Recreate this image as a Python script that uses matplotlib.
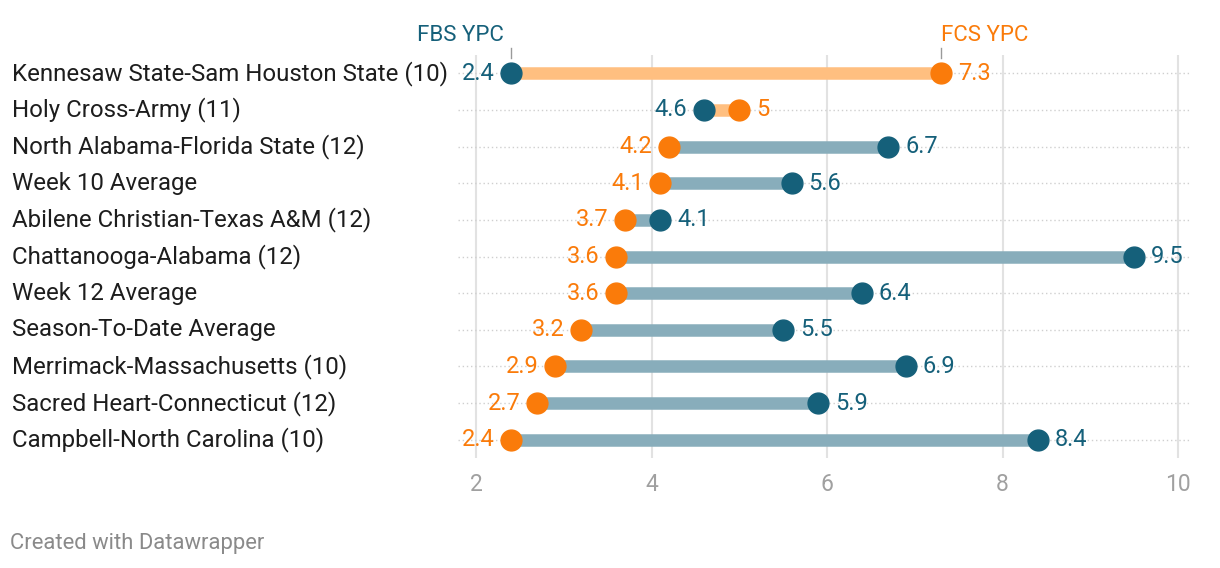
"""
Dumbbell chart: FCS vs FBS yards per carry
"""

import matplotlib.pyplot as plt
import matplotlib.transforms as mtransforms

plt.rcParams["font.family"] = ["Roboto", "DejaVu Sans"]

# --- data ---
games = [
    "Kennesaw State-Sam Houston State (10)",
    "Holy Cross-Army (11)",
    "North Alabama-Florida State (12)",
    "Week 10 Average",
    "Abilene Christian-Texas A&M (12)",
    "Chattanooga-Alabama (12)",
    "Week 12 Average",
    "Season-To-Date Average",
    "Merrimack-Massachusetts (10)",
    "Sacred Heart-Connecticut (12)",
    "Campbell-North Carolina (10)",
]
fcs_ypc = [7.3, 5.0, 4.2, 4.1, 3.7, 3.6, 3.6, 3.2, 2.9, 2.7, 2.4]
fbs_ypc = [2.4, 4.6, 6.7, 5.6, 4.1, 9.5, 6.4, 5.5, 6.9, 5.9, 8.4]
x_ticks = [2, 4, 6, 8, 10]

FBS_COLOR = "#15607a"
FCS_COLOR = "#fa7b0a"
BAR_FBS = "#88adbb"   # FBS higher
BAR_FCS = "#ffbf80"   # FCS higher
GRID = "#e2e2e2"
TICK_COL = "#a0a0a0"

W, H = 1220, 568
fig = plt.figure(figsize=(W / 100, H / 100), dpi=100)
# axes in pixel coords: left 458, right 1190, top 55, bottom 458
ax = fig.add_axes([458 / W, 1 - 458 / H, (1190 - 458) / W, (458 - 55) / H])

n = len(games)
ys = list(range(n))
ax.set_ylim(n - 0.5, -0.5)
ax.set_xlim(2 - 18 / 87.75, 10 + 12 / 87.75)

for v in x_ticks:
    ax.axvline(v, color=GRID, linewidth=1.5, zorder=0)

for y, fc, fb in zip(ys, fcs_ypc, fbs_ypc):
    ax.plot(ax.get_xlim(), [y, y], color="#cfcfcf",
            linewidth=1, linestyle=(0, (1, 2)), zorder=1)
    bar_col = BAR_FBS if fb > fc else BAR_FCS
    ax.plot([fc, fb], [y, y], color=bar_col, linewidth=9, solid_capstyle="butt", zorder=2)
    ax.plot(fc, y, "o", color=FCS_COLOR, markersize=15, zorder=4)
    ax.plot(fb, y, "o", color=FBS_COLOR, markersize=15, zorder=3)
    # value labels: lower on left, higher on right
    lo, hi = (fc, FCS_COLOR), (fb, FBS_COLOR)
    if fb < fc:
        lo, hi = hi, lo
    ax.annotate(f"{lo[0]:g}", (lo[0], y), xytext=(-12, 0), textcoords="offset points",
                ha="right", va="center", fontsize=17, color=lo[1])
    ax.annotate(f"{hi[0]:g}", (hi[0], y), xytext=(12, 0), textcoords="offset points",
                ha="left", va="center", fontsize=17, color=hi[1])

# row labels at left edge of figure
trans = mtransforms.blended_transform_factory(fig.transFigure, ax.transData)
for y, lab in zip(ys, games):
    ax.text(12 / W, y, lab, transform=trans, ha="left", va="center",
            fontsize=17.3, color="#1d1d1d", clip_on=False)

# header labels above first row
ax.annotate("FBS YPC", (fbs_ypc[0], 0), xytext=(-5, 20), textcoords="offset points",
            ha="right", va="bottom", fontsize=16, color=FBS_COLOR, annotation_clip=False)
ax.annotate("FCS YPC", (fcs_ypc[0], 0), xytext=(0, 20), textcoords="offset points",
            ha="left", va="bottom", fontsize=16, color=FCS_COLOR, annotation_clip=False)
for xv in (fbs_ypc[0], fcs_ypc[0]):
    ax.plot([xv, xv], [-0.42, -0.7], color="#9a9a9a", linewidth=1, clip_on=False)

ax.set_xticks(x_ticks)
ax.set_xticklabels([str(t) for t in x_ticks], fontsize=16.5, color=TICK_COL)
ax.tick_params(axis="x", length=0, pad=11)
ax.set_yticks([])
for s in ax.spines.values():
    s.set_visible(False)

fig.text(10 / W, 1 - 543 / H, "Created with Datawrapper", ha="left", va="center",
         fontsize=15.8, color="#8a8a8a")

fig.savefig("out.png", dpi=100)
plt.close(fig)
